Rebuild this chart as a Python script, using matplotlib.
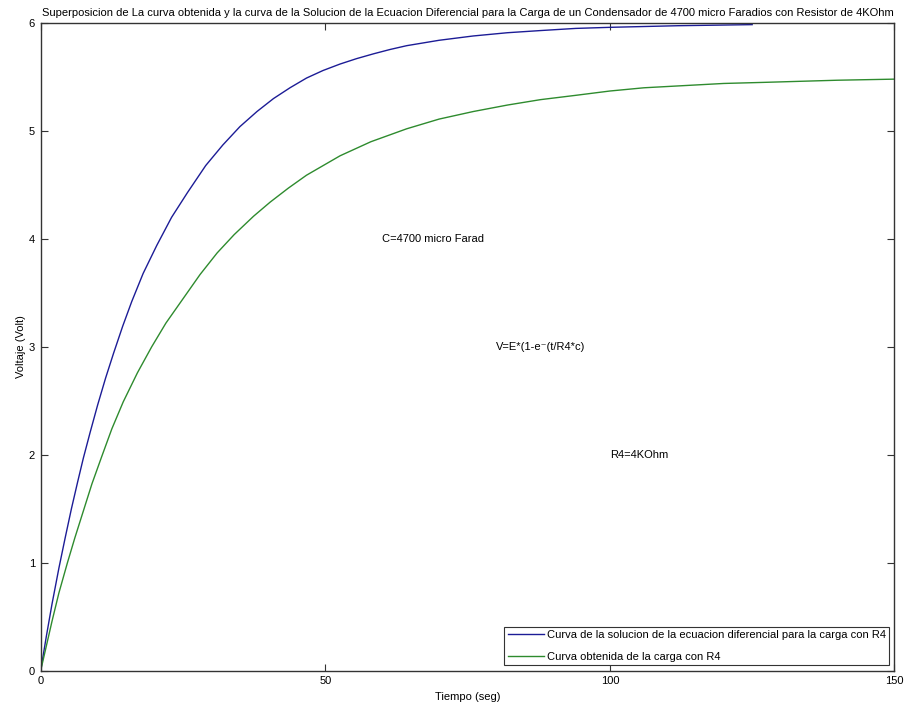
import matplotlib
matplotlib.use("Agg")
import matplotlib.pyplot as plt

# curva teorica (solucion de la ecuacion diferencial)
t_sol = [0, 1, 2, 3.2, 4.3, 5.4, 6.5, 7.5, 8.7, 10, 11.4, 12.8, 14.4, 16, 18,
         20.4, 23, 25.8, 29, 32, 35, 38, 40.9, 43.8, 46.7, 49.6, 52.6, 55.5,
         58.5, 61.4, 64.3, 70, 76, 82, 87.8, 94, 100, 112, 125]
v_sol = [0, 0.32, 0.62, 0.95, 1.23, 1.5, 1.75, 1.97, 2.21, 2.46, 2.71, 2.94,
         3.19, 3.42, 3.68, 3.94, 4.2, 4.43, 4.68, 4.87, 5.04, 5.18, 5.3, 5.4,
         5.49, 5.56, 5.62, 5.67, 5.715, 5.755, 5.79, 5.84, 5.88, 5.91, 5.93,
         5.95, 5.96, 5.975, 5.985]

# curva obtenida (medida)
t_med = [0, 1, 2, 3.2, 4.7, 6, 7.5, 9, 10.7, 12.5, 14.5, 17, 19.5, 22, 24.8,
         28, 31, 34, 37.4, 40.3, 43.5, 46.7, 52.6, 58, 64.3, 70, 76, 82, 87.8,
         94, 100, 106, 113, 120, 127, 140, 150]
v_med = [0, 0.23, 0.46, 0.72, 1.0, 1.23, 1.48, 1.73, 1.98, 2.24, 2.49, 2.76,
         3.0, 3.22, 3.43, 3.67, 3.87, 4.04, 4.21, 4.34, 4.47, 4.59, 4.77, 4.9,
         5.02, 5.11, 5.18, 5.24, 5.29, 5.33, 5.37, 5.4, 5.42, 5.44, 5.45, 5.47,
         5.48]

labels = ["Curva de la solucion de la ecuacion diferencial para la carga con R4",
          "Curva obtenida de la carga con R4"]

plt.rcParams['font.family'] = ['Liberation Sans', 'DejaVu Sans']
plt.rcParams['font.size'] = 8

fig = plt.figure(figsize=(9.08, 7.08), dpi=100)
ax = fig.add_axes([0.0448, 0.0527, 0.9403, 0.9148])

ax.plot(t_sol, v_sol, color='#1c1c96', lw=1.0, label=labels[0])
ax.plot(t_med, v_med, color='#2e8b2e', lw=1.0, label=labels[1])

ax.set_xlim(0, 150)
ax.set_ylim(0, 6)
ax.set_xticks([0, 50, 100, 150])
ax.set_yticks(range(0, 7))
ax.tick_params(direction='in', top=True, right=True, length=5, width=0.8,
               color='#333333', labelsize=8, pad=4)
for s in ax.spines.values():
    s.set_color('#333333')
    s.set_linewidth(1.0)

ax.set_title("Superposicion de La curva obtenida y la curva de la Solucion de la "
             "Ecuacion Diferencial para la Carga de un Condensador de 4700 micro "
             "Faradios con Resistor de 4KOhm", fontsize=8, pad=5)
ax.set_xlabel("Tiempo (seg)", labelpad=4)
ax.set_ylabel("Voltaje (Volt)", labelpad=2)

ax.text(60, 4, "C=4700 micro Farad", va='center', ha='left')
ax.text(80, 3, "V=E*(1-e\u207b(t/R4*c)", va='center', ha='left')
ax.text(100, 2, "R4=4KOhm", va='center', ha='left')

leg = ax.legend(loc='lower right', fancybox=False, framealpha=1,
                edgecolor='#333333', handlelength=3.3, handletextpad=0.2,
                borderpad=0.3, labelspacing=1.05, borderaxespad=0.5)
leg.get_frame().set_linewidth(0.8)

fig.savefig("out.png", dpi=100)
